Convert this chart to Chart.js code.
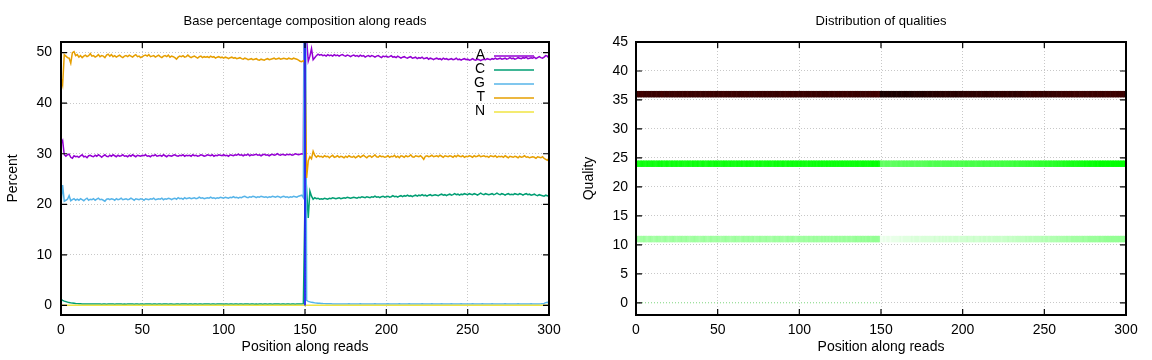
<!DOCTYPE html>
<html><head><meta charset="utf-8">
<script src="https://cdn.jsdelivr.net/npm/chart.js@4/dist/chart.umd.min.js"></script>
<style>
html,body{margin:0;padding:0;background:#fff;}
#wrap{width:1152px;height:360px;display:flex;}
canvas{display:block;}
</style></head><body>
<div id="wrap"><canvas id="c1" width="576" height="360"></canvas><canvas id="c2" width="576" height="360"></canvas></div>
<script>
// ---------- categories / ticks ----------
const positions = Array.from({length: 301}, (_, i) => i);
const baseLabels = ['A', 'C', 'G', 'T', 'N'];
const xTicks = [0, 50, 100, 150, 200, 250, 300];
const percentTicks = [0, 10, 20, 30, 40, 50];
const qualityTicks = [0, 5, 10, 15, 20, 25, 30, 35, 40, 45];

// ---------- base composition (percent), positions 0..300 ----------
const baseA = [
32.0,32.6,29.8,29.5,29.8,29.9,29.3,29.1,29.6,29.4,
29.5,29.3,29.6,29.8,29.4,29.5,29.2,29.6,29.7,29.5,
29.4,29.7,29.5,29.8,29.6,29.3,29.6,29.8,29.5,29.4,
29.7,29.5,29.8,29.6,29.4,29.7,29.5,29.6,29.8,29.5,
29.6,29.4,29.7,29.5,29.8,29.6,29.4,29.7,29.6,29.5,
29.7,29.6,29.8,29.5,29.6,29.4,29.7,29.6,29.8,29.5,
29.6,29.7,29.5,29.8,29.6,29.4,29.7,29.6,29.5,29.7,
29.8,29.6,29.5,29.7,29.6,29.8,29.5,29.7,29.6,29.7,
29.5,29.8,29.6,29.7,29.5,29.6,29.8,29.7,29.5,29.6,
29.8,29.7,29.6,29.8,29.5,29.7,29.6,29.8,29.7,29.6,
29.8,29.6,29.7,29.5,29.8,29.7,29.6,29.8,29.7,29.9,
29.7,29.8,29.6,29.8,29.7,29.9,29.6,29.8,29.7,29.8,
29.9,29.7,29.8,29.6,29.8,29.9,29.7,29.8,29.6,29.8,
29.9,29.7,29.8,30.0,29.8,29.7,29.9,29.8,29.7,29.9,
29.8,29.9,29.7,29.8,30.0,29.9,29.8,29.9,30.0,29.9,
100,52.6,48.3,49.3,50.8,48.6,49.0,49.4,49.7,49.5,
49.6,49.4,49.5,49.3,49.6,49.4,49.5,49.3,49.6,49.4,
49.5,49.3,49.5,49.6,49.4,49.3,49.5,49.4,49.2,49.4,
49.5,49.3,49.4,49.2,49.5,49.3,49.4,49.1,49.3,49.4,
49.2,49.4,49.3,49.1,49.3,49.4,49.2,49.0,49.3,49.2,
49.3,49.1,49.2,49.4,49.1,49.2,49.0,49.3,49.1,48.9,
49.1,49.2,49.0,48.9,49.1,49.2,48.9,49.0,49.1,48.8,
49.0,48.9,49.1,48.8,48.9,49.0,48.7,48.9,48.8,48.6,
48.8,48.9,48.7,48.8,48.6,48.9,48.7,48.8,48.6,48.7,
48.8,48.6,48.7,48.9,48.6,48.7,48.5,48.7,48.8,48.6,
48.7,48.5,48.6,48.8,48.6,48.5,48.7,48.6,48.4,48.6,
48.7,48.6,48.8,48.7,48.6,48.8,48.7,48.9,48.7,48.8,
48.9,48.7,48.8,48.9,48.7,48.8,49.0,48.8,48.9,48.7,
48.8,49.0,48.9,48.8,49.0,48.9,49.1,48.8,48.9,49.0,
48.9,49.1,48.8,49.0,49.2,49.0,48.9,49.1,49.4,49.3,
48.9];
const baseC = [
1.2,1.0,0.85,0.75,0.65,0.55,0.5,0.45,0.42,0.38,
0.35,0.33,0.32,0.3,0.3,0.3,0.29,0.28,0.28,0.28,
0.27,0.26,0.26,0.27,0.26,0.25,0.26,0.26,0.25,0.26,
0.26,0.27,0.26,0.25,0.26,0.26,0.27,0.26,0.25,0.26,
0.25,0.26,0.26,0.27,0.26,0.25,0.26,0.26,0.25,0.26,
0.26,0.25,0.26,0.27,0.26,0.26,0.25,0.26,0.26,0.25,
0.26,0.26,0.25,0.26,0.27,0.26,0.25,0.26,0.26,0.25,
0.25,0.26,0.26,0.25,0.26,0.26,0.27,0.26,0.25,0.26,
0.26,0.25,0.26,0.26,0.25,0.26,0.26,0.25,0.26,0.27,
0.26,0.26,0.25,0.26,0.26,0.25,0.26,0.26,0.27,0.26,
0.25,0.26,0.26,0.25,0.26,0.26,0.25,0.26,0.26,0.25,
0.26,0.26,0.25,0.26,0.27,0.26,0.25,0.26,0.26,0.25,
0.26,0.25,0.26,0.26,0.25,0.26,0.26,0.25,0.26,0.26,
0.25,0.26,0.26,0.27,0.26,0.25,0.26,0.26,0.25,0.26,
0.26,0.25,0.26,0.26,0.25,0.26,0.26,0.27,0.28,0.3,
21.0,22.8,17.3,22.6,21.6,21.0,21.3,21.1,21.2,21.0,
21.1,21.0,21.2,21.1,21.0,21.2,21.1,21.3,21.2,21.1,
21.2,21.3,21.1,21.2,21.3,21.2,21.4,21.3,21.2,21.3,
21.4,21.3,21.2,21.4,21.3,21.5,21.4,21.3,21.5,21.4,
21.3,21.5,21.4,21.6,21.4,21.5,21.3,21.5,21.6,21.4,
21.5,21.6,21.4,21.5,21.7,21.5,21.6,21.4,21.6,21.7,
21.5,21.7,21.6,21.8,21.6,21.7,21.5,21.7,21.8,21.6,
21.8,21.7,21.9,21.7,21.8,21.6,21.8,21.9,21.7,21.8,
21.9,21.8,21.7,21.9,22.0,21.8,21.9,21.7,21.9,22.0,
21.8,21.9,22.1,21.9,22.0,21.8,22.0,21.9,22.1,22.0,
21.9,22.1,22.0,21.9,22.1,22.0,21.8,22.0,22.2,22.0,
21.9,22.1,22.0,21.9,22.0,22.1,21.9,22.0,22.2,22.0,
21.9,22.1,22.0,21.8,22.0,22.1,21.9,22.0,21.9,22.1,
22.0,21.9,22.1,22.0,21.8,22.0,22.1,21.9,22.0,21.8,
21.9,22.0,21.8,21.7,21.9,21.8,21.7,21.6,21.8,21.7,
21.6];
const baseG = [
20.2,23.8,20.6,20.8,21.0,21.7,20.7,20.9,21.1,20.8,
21.0,20.8,21.1,20.9,20.7,21.0,21.2,20.8,21.0,20.9,
21.1,20.8,21.0,21.2,20.9,21.0,20.8,20.6,21.0,21.1,
20.9,21.1,21.0,20.8,21.1,20.9,21.0,21.2,20.9,21.0,
21.1,20.9,21.0,21.2,21.0,20.8,21.1,21.0,20.9,21.1,
21.0,20.8,21.1,21.0,20.9,21.1,21.0,21.2,20.9,21.0,
21.1,21.0,21.2,20.9,21.1,21.0,21.2,21.1,20.9,21.1,
21.2,21.0,21.3,21.1,21.2,21.0,21.3,21.1,21.2,21.3,
21.1,21.2,21.3,21.1,21.2,21.4,21.2,21.3,21.1,21.2,
21.3,21.2,21.4,21.2,21.3,21.1,21.3,21.2,21.4,21.3,
21.2,21.4,21.3,21.2,21.4,21.3,21.5,21.3,21.4,21.2,
21.4,21.3,21.5,21.6,21.4,21.3,21.5,21.4,21.6,21.5,
21.3,21.5,21.4,21.6,21.5,21.4,21.5,21.3,21.5,21.4,
21.6,21.5,21.4,21.6,21.5,21.3,21.5,21.6,21.4,21.5,
21.3,21.5,21.4,21.6,21.5,21.4,21.6,21.7,21.8,21.3,
100,1.0,0.8,0.7,0.6,0.55,0.5,0.45,0.42,0.4,
0.38,0.36,0.35,0.34,0.33,0.32,0.31,0.3,0.3,0.3,
0.3,0.29,0.3,0.3,0.29,0.3,0.3,0.31,0.3,0.29,
0.3,0.3,0.29,0.3,0.31,0.3,0.3,0.29,0.3,0.3,
0.29,0.3,0.3,0.31,0.3,0.29,0.3,0.3,0.3,0.29,
0.3,0.31,0.3,0.29,0.3,0.3,0.29,0.3,0.31,0.3,
0.3,0.29,0.3,0.3,0.31,0.3,0.29,0.3,0.3,0.3,
0.29,0.3,0.31,0.3,0.3,0.29,0.3,0.3,0.31,0.3,
0.3,0.3,0.29,0.3,0.31,0.3,0.3,0.29,0.3,0.3,
0.31,0.3,0.29,0.3,0.3,0.3,0.31,0.3,0.29,0.3,
0.3,0.29,0.3,0.31,0.3,0.3,0.29,0.3,0.3,0.31,
0.3,0.3,0.29,0.3,0.3,0.31,0.3,0.29,0.3,0.3,
0.29,0.3,0.3,0.31,0.3,0.3,0.29,0.3,0.3,0.3,
0.3,0.31,0.3,0.29,0.3,0.3,0.3,0.29,0.3,0.31,
0.3,0.3,0.29,0.3,0.3,0.31,0.33,0.4,0.55,0.62,
0.5];
const baseT = [
45.0,43.6,49.6,49.3,49.0,48.9,47.9,50.0,50.2,49.4,
49.6,49.1,49.4,49.0,49.3,49.5,49.2,49.4,49.8,49.3,
49.4,49.1,49.3,49.6,49.2,49.4,49.3,49.0,49.5,49.7,
49.3,49.6,49.2,49.4,49.1,49.3,49.5,49.2,49.0,49.3,
49.4,49.2,49.5,49.3,49.1,49.4,49.6,49.2,49.3,49.0,
49.2,49.4,49.5,49.3,49.6,49.2,49.3,49.4,49.1,49.3,
49.5,49.2,49.0,49.3,49.4,49.2,49.5,49.1,49.3,49.2,
49.0,48.7,49.1,49.3,49.2,49.4,49.1,49.2,49.5,49.2,
49.0,49.2,49.3,49.1,48.9,49.2,49.3,49.0,49.2,49.1,
49.2,49.0,49.3,49.1,49.2,48.9,49.1,49.2,49.0,49.1,
48.9,49.1,49.0,48.8,49.0,49.1,48.9,49.0,48.8,48.9,
49.0,48.8,48.7,48.9,48.8,48.6,48.7,48.8,48.6,48.7,
48.8,48.6,48.5,48.7,48.6,48.5,48.7,48.8,48.6,48.7,
48.8,48.9,48.7,48.8,48.9,48.7,48.8,48.9,48.8,48.7,
48.9,48.8,48.7,48.9,48.8,48.7,48.5,48.3,48.2,48.4,
48.0,25.2,28.6,29.4,29.0,30.5,29.7,29.3,29.6,29.4,
29.5,29.3,29.6,29.4,29.5,29.2,29.5,29.7,29.3,29.4,
29.6,29.3,29.5,29.4,29.2,29.5,29.3,29.6,29.4,29.3,
29.5,29.2,29.4,29.6,29.3,29.5,29.7,29.4,29.2,29.5,
29.6,29.3,29.5,29.8,29.4,29.3,29.6,29.4,29.5,29.3,
29.4,29.6,29.3,29.5,29.4,29.7,29.3,29.5,29.2,29.6,
29.5,29.3,29.6,29.4,29.5,29.8,29.4,29.3,29.6,29.5,
29.4,29.6,29.3,28.9,29.5,29.6,29.4,29.5,29.7,29.4,
29.5,29.6,29.4,29.7,29.5,29.3,29.6,29.5,29.4,29.6,
29.5,29.3,29.6,29.4,29.7,29.5,29.4,29.6,29.3,29.5,
29.4,29.6,29.5,29.3,29.6,29.4,29.5,29.7,29.4,29.5,
29.6,29.4,29.5,29.3,29.6,29.5,29.4,29.6,29.3,29.5,
29.4,29.5,29.3,29.6,29.4,29.2,29.5,29.4,29.3,29.5,
29.4,29.2,29.5,29.3,29.4,29.6,29.3,29.4,29.2,29.3,
29.4,29.3,29.1,29.4,29.3,29.2,29.4,29.1,28.9,28.7,
29.1];
const baseN = [
0.03,0.02,0.02,0.03,0.02,0.02,0.02,0.03,0.02,0.02,
0.02,0.03,0.02,0.02,0.02,0.02,0.03,0.02,0.02,0.02,
0.02,0.02,0.03,0.02,0.02,0.02,0.03,0.02,0.02,0.02,
0.03,0.02,0.02,0.02,0.02,0.03,0.02,0.02,0.02,0.02,
0.02,0.03,0.02,0.02,0.02,0.02,0.02,0.03,0.02,0.02,
0.02,0.02,0.03,0.02,0.02,0.02,0.02,0.02,0.03,0.02,
0.02,0.02,0.02,0.03,0.02,0.02,0.02,0.02,0.02,0.03,
0.02,0.02,0.02,0.02,0.03,0.02,0.02,0.02,0.02,0.02,
0.03,0.02,0.02,0.02,0.02,0.02,0.03,0.02,0.02,0.02,
0.02,0.03,0.02,0.02,0.02,0.02,0.02,0.03,0.02,0.02,
0.02,0.02,0.03,0.02,0.02,0.02,0.02,0.02,0.03,0.02,
0.02,0.02,0.02,0.03,0.02,0.02,0.02,0.02,0.02,0.03,
0.02,0.02,0.02,0.02,0.03,0.02,0.02,0.02,0.02,0.02,
0.03,0.02,0.02,0.02,0.02,0.02,0.03,0.02,0.02,0.02,
0.02,0.03,0.02,0.02,0.02,0.02,0.02,0.03,0.02,0.02,
0.0,0.03,0.02,0.02,0.02,0.02,0.03,0.02,0.02,0.02,
0.02,0.02,0.03,0.02,0.02,0.02,0.02,0.02,0.03,0.02,
0.02,0.02,0.02,0.03,0.02,0.02,0.02,0.02,0.02,0.03,
0.02,0.02,0.02,0.02,0.03,0.02,0.02,0.02,0.02,0.02,
0.03,0.02,0.02,0.02,0.02,0.02,0.03,0.02,0.02,0.02,
0.02,0.03,0.02,0.02,0.02,0.02,0.02,0.03,0.02,0.02,
0.02,0.02,0.03,0.02,0.02,0.02,0.02,0.02,0.03,0.02,
0.02,0.02,0.02,0.03,0.02,0.02,0.02,0.02,0.02,0.03,
0.02,0.02,0.02,0.02,0.03,0.02,0.02,0.02,0.02,0.02,
0.03,0.02,0.02,0.02,0.02,0.02,0.03,0.02,0.02,0.02,
0.02,0.03,0.02,0.02,0.02,0.02,0.02,0.03,0.02,0.02,
0.02,0.02,0.03,0.02,0.02,0.02,0.02,0.02,0.03,0.02,
0.02,0.02,0.02,0.03,0.02,0.02,0.02,0.02,0.02,0.03,
0.02,0.02,0.02,0.02,0.03,0.02,0.02,0.02,0.02,0.02,
0.03,0.02,0.02,0.02,0.02,0.02,0.03,0.02,0.02,0.02,
0.02];
// odd composition column at position 150 (vertical stroke)
const spikeX = [150, 150];
const spikeY = [0, 100];

// ---------- quality distribution: colour-scale level (0..100) per position ----------
const qualityBands = [36, 24, 11];
const q36Level = [
89,89,90,90,89,90,91,90,90,91, 90,91,90,90,91,90,89,90,91,90,
90,91,90,91,90,90,91,90,91,90, 91,90,90,91,90,91,90,90,91,90,
90,91,91,90,91,90,90,91,90,91, 91,90,91,90,90,91,90,91,91,90,
90,91,90,91,91,90,91,90,90,91, 91,90,91,91,90,91,90,91,90,91,
90,91,90,91,91,90,91,91,90,91, 91,90,91,90,91,91,90,91,91,90,
91,91,90,91,90,91,91,90,91,91, 90,91,91,90,91,91,90,91,90,91,
91,90,91,91,90,91,91,90,91,90, 91,91,90,91,90,91,90,91,91,90,
91,90,91,90,90,89,90,89,89,89, 96,96,96,96,95,96,96,95,96,96,
95,96,96,95,95,96,95,95,96,95, 95,95,94,95,95,94,95,94,94,94,
94,94,93,94,93,94,93,93,94,93, 93,93,94,93,93,93,94,93,93,93,
93,93,93,92,93,93,92,93,93,92, 93,92,93,92,93,93,92,93,92,93,
92,93,92,93,92,92,93,92,92,93, 92,92,93,92,92,92,93,92,92,92,
92,91,92,92,91,92,91,92,91,92, 91,92,91,91,92,91,91,92,91,91,
91,90,91,90,91,90,90,91,90,90, 90,91,90,90,90,91,90,90,91,90,
90,90,91,90,90,90,91,90,90,90, 90,91,90,90,90,91,90,90,90,91,
90];
const q24Level = [
31,32,30,31,32,31,30,32,31,31, 32,31,30,31,32,31,32,30,31,32,
31,30,32,31,31,32,30,31,32,31, 30,31,32,31,30,32,31,31,32,30,
31,32,31,30,31,32,31,30,32,31, 32,31,30,31,32,31,31,30,32,31,
31,30,32,31,31,32,30,31,32,31, 32,31,31,30,32,31,32,31,30,31,
31,32,31,31,30,32,31,32,31,31, 32,31,30,32,31,31,32,31,31,32,
31,32,31,32,31,30,32,31,32,31, 32,31,32,31,32,31,31,32,31,32,
31,32,32,31,32,31,32,32,31,32, 32,31,32,32,31,32,32,31,32,32,
32,32,31,32,32,33,32,32,33,32, 21,21,20,21,21,21,20,21,21,21,
21,22,21,21,22,21,22,21,22,22, 22,21,22,22,22,21,22,22,22,23,
23,23,22,23,23,23,23,22,23,23, 23,23,23,24,23,23,23,24,23,23,
24,23,24,24,23,24,24,24,23,24, 24,24,24,25,24,24,24,25,24,24,
25,24,25,24,25,25,24,25,25,25, 25,25,26,25,25,26,26,26,26,27,
26,27,27,26,27,27,27,28,27,27, 27,28,27,28,28,27,28,28,29,28,
29,29,30,29,30,30,30,30,31,30, 30,31,31,31,31,32,31,32,32,32,
32,32,33,32,33,33,33,33,33,33, 33,33,33,33,33,33,33,33,33,33,
33];
const q11Level = [
12,13,11,12,12,13,12,11,12,13, 12,11,12,13,12,12,11,12,13,12,
11,12,12,13,12,11,12,12,13,12, 12,13,12,11,12,12,13,12,12,11,
12,12,13,12,11,12,13,12,12,12, 13,12,11,12,12,13,12,12,11,12,
12,13,12,12,11,12,13,12,12,13, 12,12,13,11,12,12,13,12,12,12,
13,12,12,11,12,13,12,12,13,12, 12,11,12,13,12,12,13,12,11,12,
13,12,12,13,12,12,13,12,12,13, 12,13,12,12,13,12,13,12,13,12,
13,12,13,13,12,13,12,13,13,12, 13,13,12,13,13,14,13,13,14,13,
14,13,14,14,13,14,14,14,14,14, 2,2,3,2,3,3,2,3,3,3,
3,3,4,3,4,4,4,4,4,5, 4,5,5,5,4,5,5,5,5,5,
5,5,5,6,5,5,6,5,6,5, 6,5,6,6,5,6,6,6,5,6,
6,6,6,7,6,6,6,7,6,6, 6,7,6,7,7,6,7,7,6,7,
7,7,7,7,6,7,7,7,8,7, 7,8,7,8,8,8,8,8,8,9,
8,9,9,8,9,9,9,9,9,10, 9,10,10,9,10,10,10,10,11,10,
11,11,11,11,12,11,11,12,12,12, 12,12,12,12,13,12,12,13,13,13,
13,13,13,13,14,13,13,14,14,14, 14,14,14,14,14,14,14,14,14,14,
14];
const q0Span = [0, 150];

// ---------- styles ----------
const baseColors = ['#9400d3', '#009e73', '#56b4e9', '#e69f00', '#f0e442'];
const paletteStops = [0, 33.3, 66.7, 100];
const paletteRGB = [[255,255,255],[0,255,0],[200,0,0],[0,0,0]];
function palette(v) {
  for (let i = 0; i < paletteStops.length - 1; i++) {
    if (v <= paletteStops[i+1]) {
      const t = (v - paletteStops[i]) / (paletteStops[i+1] - paletteStops[i]);
      const a = paletteRGB[i], b = paletteRGB[i+1];
      return 'rgb(' + a.map((c, k) => Math.round(c + (b[k] - c) * t)).join(',') + ')';
    }
  }
  return 'rgb(0,0,0)';
}

const FONT = '"Liberation Sans", Arial, Helvetica, sans-serif';
Chart.defaults.font.family = FONT;
Chart.defaults.font.size = 14;
Chart.defaults.color = '#000';

const gnuFrame = {
  id: 'gnuFrame',
  afterDatasetsDraw(chart, args, opts) {
    const {ctx, chartArea: a, scales: {x, y}} = chart;
    ctx.save();
    ctx.strokeStyle = '#000';
    ctx.lineWidth = 1.2;
    ctx.beginPath();
    x.ticks.forEach(t => {
      const px = x.getPixelForValue(t.value);
      ctx.moveTo(px, a.bottom); ctx.lineTo(px, a.bottom - 6);
      ctx.moveTo(px, a.top); ctx.lineTo(px, a.top + 6);
    });
    y.ticks.forEach(t => {
      const py = y.getPixelForValue(t.value);
      ctx.moveTo(a.left, py); ctx.lineTo(a.left + 6, py);
      ctx.moveTo(a.right, py); ctx.lineTo(a.right - 6, py);
    });
    ctx.stroke();
    ctx.lineWidth = 2;
    ctx.strokeRect(a.left, a.top, a.right - a.left, a.bottom - a.top);
    ctx.fillStyle = '#000';
    ctx.font = '13px ' + FONT;
    ctx.textAlign = 'center';
    ctx.textBaseline = 'middle';
    ctx.fillText(opts.title, (a.left + a.right) / 2, 21);
    if (opts.legend) {
      ctx.font = '14px ' + FONT;
      ctx.textAlign = 'right';
      opts.legend.forEach((lab, i) => {
        const yy = 55 + 14 * i;
        ctx.fillStyle = '#000';
        ctx.fillText(lab, 485, yy);
        ctx.strokeStyle = baseColors[i];
        ctx.lineWidth = 1.6;
        ctx.beginPath(); ctx.moveTo(494, yy + 1); ctx.lineTo(534, yy + 1); ctx.stroke();
      });
    }
    ctx.restore();
  }
};

function gridOpts() { return {color: '#c8c8c8', lineWidth: 1, drawTicks: false}; }
function borderOpts() { return {display: false, dash: [1, 2]}; }

function xScale() {
  return {
    type: 'linear', min: 0, max: 300, offset: false,
    afterBuildTicks: s => { s.ticks = xTicks.map(v => ({value: v})); },
    afterFit: s => { s.height = 45; },
    ticks: {padding: 7, font: {size: 14}, color: '#000', maxRotation: 0, autoSkip: false},
    grid: Object.assign(gridOpts(), {offset: false}),
    border: borderOpts(),
    title: {display: true, text: 'Position along reads', font: {size: 14}, padding: {top: 0, bottom: 4}}
  };
}

// ---------- left chart ----------
const seriesList = [baseA, baseC, baseG, baseT, baseN];
const lineSets = seriesList.map((arr, i) => ({
  label: baseLabels[i],
  data: arr.map((v, j) => ({x: positions[j], y: v})),
  borderColor: baseColors[i],
  borderWidth: 1.5,
  pointRadius: 0,
  tension: 0,
  order: 5 - i
}));
lineSets.push({
  label: 'pos150',
  data: spikeX.map((v, j) => ({x: v, y: spikeY[j]})),
  borderColor: '#2222f4',
  borderWidth: 1.8,
  pointRadius: 0,
  order: 0
});

new Chart(document.getElementById('c1'), {
  type: 'line',
  data: {datasets: lineSets},
  options: {
    responsive: false, animation: false, events: [],
    layout: {padding: {top: 42, right: 27, left: 0, bottom: 0}},
    plugins: {legend: {display: false}, tooltip: {enabled: false}, title: {display: false},
      gnuFrame: {title: 'Base percentage composition along reads', legend: baseLabels}},
    scales: {
      x: xScale(),
      y: {
        type: 'linear', min: -1.9, max: 52.1,
        afterBuildTicks: s => { s.ticks = percentTicks.map(v => ({value: v})); },
        afterFit: s => { s.width = 61; },
        ticks: {padding: 9, font: {size: 14}, color: '#000'},
        grid: gridOpts(), border: borderOpts(),
        title: {display: true, text: 'Percent', font: {size: 14}, padding: {top: 5, bottom: 0}}
      }
    }
  },
  plugins: [gnuFrame]
});

// ---------- right chart ----------
const levels = [q36Level, q24Level, q11Level];
const bandSets = qualityBands.map((q, i) => ({
  type: 'bar',
  label: 'Q' + q,
  data: positions.map(p => ({x: p, y: [q - 0.5, q + 0.5]})),
  backgroundColor: levels[i].map(palette),
  borderWidth: 0,
  grouped: false,
  barPercentage: 1,
  categoryPercentage: 1,
  clip: 0
}));
bandSets.push({
  type: 'line',
  label: 'Q0',
  data: q0Span.map(p => ({x: p, y: 0})),
  borderColor: '#8ee88e',
  borderWidth: 1,
  borderDash: [1, 2],
  pointRadius: 0
});

new Chart(document.getElementById('c2'), {
  type: 'bar',
  data: {datasets: bandSets},
  options: {
    responsive: false, animation: false, events: [],
    layout: {padding: {top: 42, right: 26, left: 0, bottom: 0}},
    plugins: {legend: {display: false}, tooltip: {enabled: false}, title: {display: false},
      gnuFrame: {title: 'Distribution of qualities'}},
    scales: {
      x: xScale(),
      y: {
        type: 'linear', min: -2.1, max: 45, beginAtZero: false,
        afterBuildTicks: s => { s.ticks = qualityTicks.map(v => ({value: v})); },
        afterFit: s => { s.width = 60; },
        ticks: {padding: 8, font: {size: 14}, color: '#000'},
        grid: gridOpts(), border: borderOpts(),
        title: {display: true, text: 'Quality', font: {size: 14}, padding: {top: 5, bottom: 0}}
      }
    }
  },
  plugins: [gnuFrame]
});
</script>
</body></html>
